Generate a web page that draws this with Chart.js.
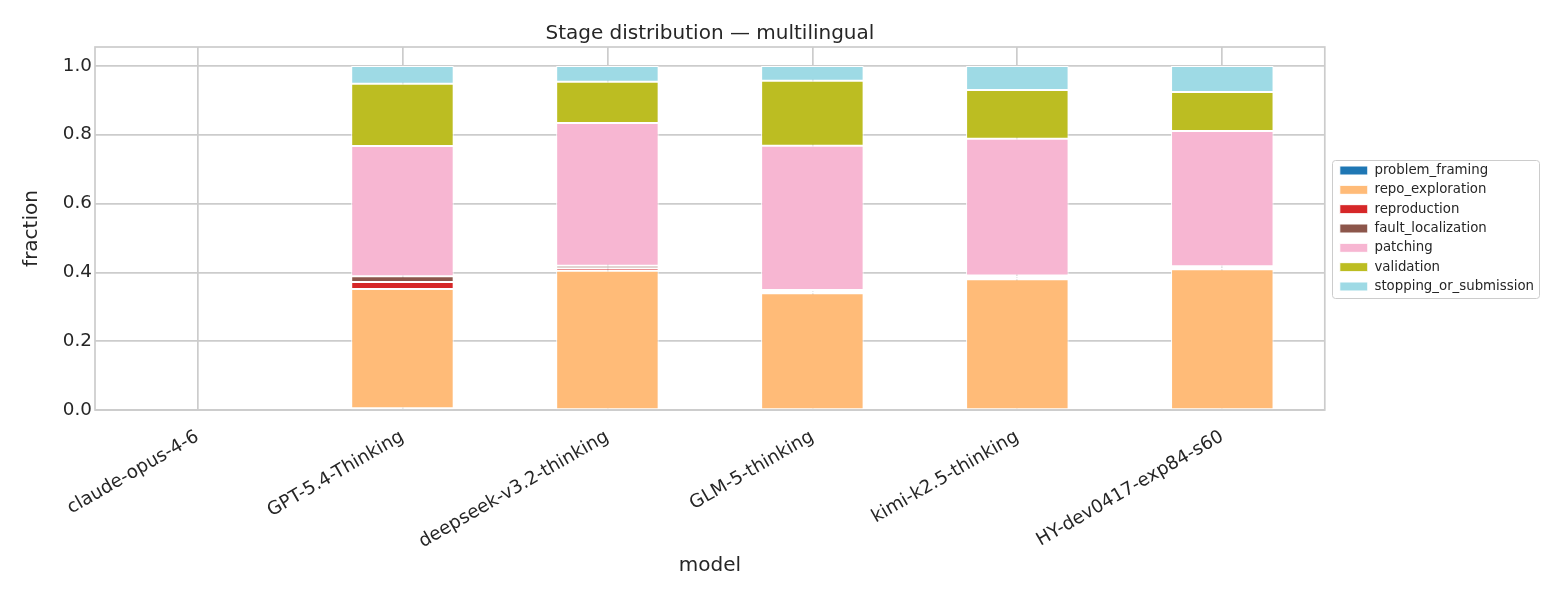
<!DOCTYPE html>
<html lang="en">
<head>
  <meta charset="UTF-8">
  <title>Stage distribution — multilingual</title>
  <script src="https://cdn.jsdelivr.net/npm/chart.js"></script>
  <style>
    body { margin: 0; background: #fff; }
  </style>
</head>
<body>
  <canvas id="chart" width="1560" height="600"></canvas>

  <script>
    // data (fractions per stage, stacked to 1.0)
    const models = ['claude-opus-4-6', 'GPT-5.4-Thinking', 'deepseek-v3.2-thinking',
                    'GLM-5-thinking', 'kimi-k2.5-thinking', 'HY-dev0417-exp84-s60'];
    const problemFraming       = [null, 0.005, 0.002, 0.002, 0.002, 0.002];
    const repoExploration      = [null, 0.347, 0.403, 0.337, 0.378, 0.407];
    const reproduction         = [null, 0.020, 0.007, 0.005, 0.006, 0.005];
    const faultLocalization    = [null, 0.017, 0.007, 0.005, 0.005, 0.004];
    const patching             = [null, 0.378, 0.415, 0.419, 0.397, 0.393];
    const validation           = [null, 0.181, 0.120, 0.189, 0.142, 0.113];
    const stoppingOrSubmission = [null, 0.052, 0.046, 0.043, 0.070, 0.076];
    const yTicks = [0, 0.2, 0.4, 0.6, 0.8, 1.0];

    const stages = [
      ['problem_framing', problemFraming, '#1f77b4'],
      ['repo_exploration', repoExploration, '#ffbb78'],
      ['reproduction', reproduction, '#d62728'],
      ['fault_localization', faultLocalization, '#8c564b'],
      ['patching', patching, '#f7b6d2'],
      ['validation', validation, '#bcbd22'],
      ['stopping_or_submission', stoppingOrSubmission, '#9edae5']
    ];

    Chart.defaults.font.family = '"DejaVu Sans", sans-serif';
    Chart.defaults.color = '#262626';

    const GRID = '#cccccc';
    const LEGEND_SHIFT = 9;

    // axes frame + legend box + title centred over the plot area
    const extras = {
      id: 'extras',
      afterUpdate(chart) {
        // nudge the legend a little away from the plot, like matplotlib's bbox_to_anchor
        const lg = chart.legend;
        lg.left += LEGEND_SHIFT;
        lg.right += LEGEND_SHIFT;
        lg.legendHitBoxes.forEach(h => { h.left += LEGEND_SHIFT; });
      },
      beforeDatasetsDraw(chart) {
        const a = chart.chartArea;
        const c = chart.ctx;
        c.save();
        c.strokeStyle = GRID;
        c.lineWidth = 1.7;
        c.strokeRect(a.left, a.top, a.right - a.left, a.bottom - a.top);
        c.restore();
      },
      afterDraw(chart) {
        const c = chart.ctx;
        const a = chart.chartArea;
        c.save();
        c.font = '20px "DejaVu Sans"';
        c.fillStyle = '#262626';
        c.textAlign = 'center';
        c.textBaseline = 'alphabetic';
        c.fillText('Stage distribution — multilingual', (a.left + a.right) / 2, 39);

        const hb = chart.legend.legendHitBoxes;
        if (hb && hb.length) {
          const l = Math.min(...hb.map(h => h.left)) - 8;
          const t = Math.min(...hb.map(h => h.top)) - 4;
          const r = Math.max(...hb.map(h => h.left + h.width)) + 5;
          const b = Math.max(...hb.map(h => h.top + h.height)) + 5;
          c.strokeStyle = GRID;
          c.lineWidth = 1;
          c.beginPath();
          c.roundRect(Math.round(l) + 0.5, Math.round(t) + 0.5, Math.round(r - l), Math.round(b - t), 3);
          c.stroke();
        }
        c.restore();
      }
    };

    const ctx = document.getElementById('chart').getContext('2d');
    new Chart(ctx, {
      type: 'bar',
      data: {
        labels: models,
        datasets: stages.map(([name, values, color]) => ({
          label: name,
          data: values,
          backgroundColor: color,
          borderColor: '#ffffff',
          borderWidth: 1,
          borderSkipped: false,
          categoryPercentage: 1.0,
          barPercentage: 0.5
        }))
      },
      options: {
        responsive: false,
        animation: false,
        layout: { padding: { top: 47, right: 25, bottom: 0, left: 0 } },
        plugins: {
          title: { display: false },
          tooltip: { enabled: false },
          legend: {
            position: 'right',
            fullSize: false,
            labels: {
              font: { size: 13.33 },
              color: '#262626',
              boxWidth: 28,
              boxHeight: 9,
              padding: 6
            }
          }
        },
        scales: {
          x: {
            stacked: true,
            offset: true,
            grid: { color: GRID, lineWidth: 1.7, offset: false, drawTicks: false },
            border: { display: false },
            ticks: { font: { size: 18.33 }, color: '#262626', maxRotation: 30, minRotation: 30, padding: 16, autoSkip: false },
            title: { display: true, text: 'model', font: { size: 20 }, color: '#262626', padding: { top: 0, bottom: 22 } },
            afterFit(scale) { scale.height = 190; }
          },
          y: {
            stacked: true,
            min: 0,
            max: 1.055,
            grid: { color: GRID, lineWidth: 1.7, drawTicks: false },
            border: { display: false },
            afterBuildTicks(scale) { scale.ticks = yTicks.map(v => ({ value: v })); },
            ticks: { font: { size: 18.33 }, color: '#262626', padding: 3, callback: v => v.toFixed(1) },
            title: { display: true, text: 'fraction', font: { size: 20 }, color: '#262626', padding: { top: 20, bottom: 0 } },
            afterFit(scale) { scale.width = 95; }
          }
        }
      },
      plugins: [extras]
    });
  </script>
</body>
</html>
